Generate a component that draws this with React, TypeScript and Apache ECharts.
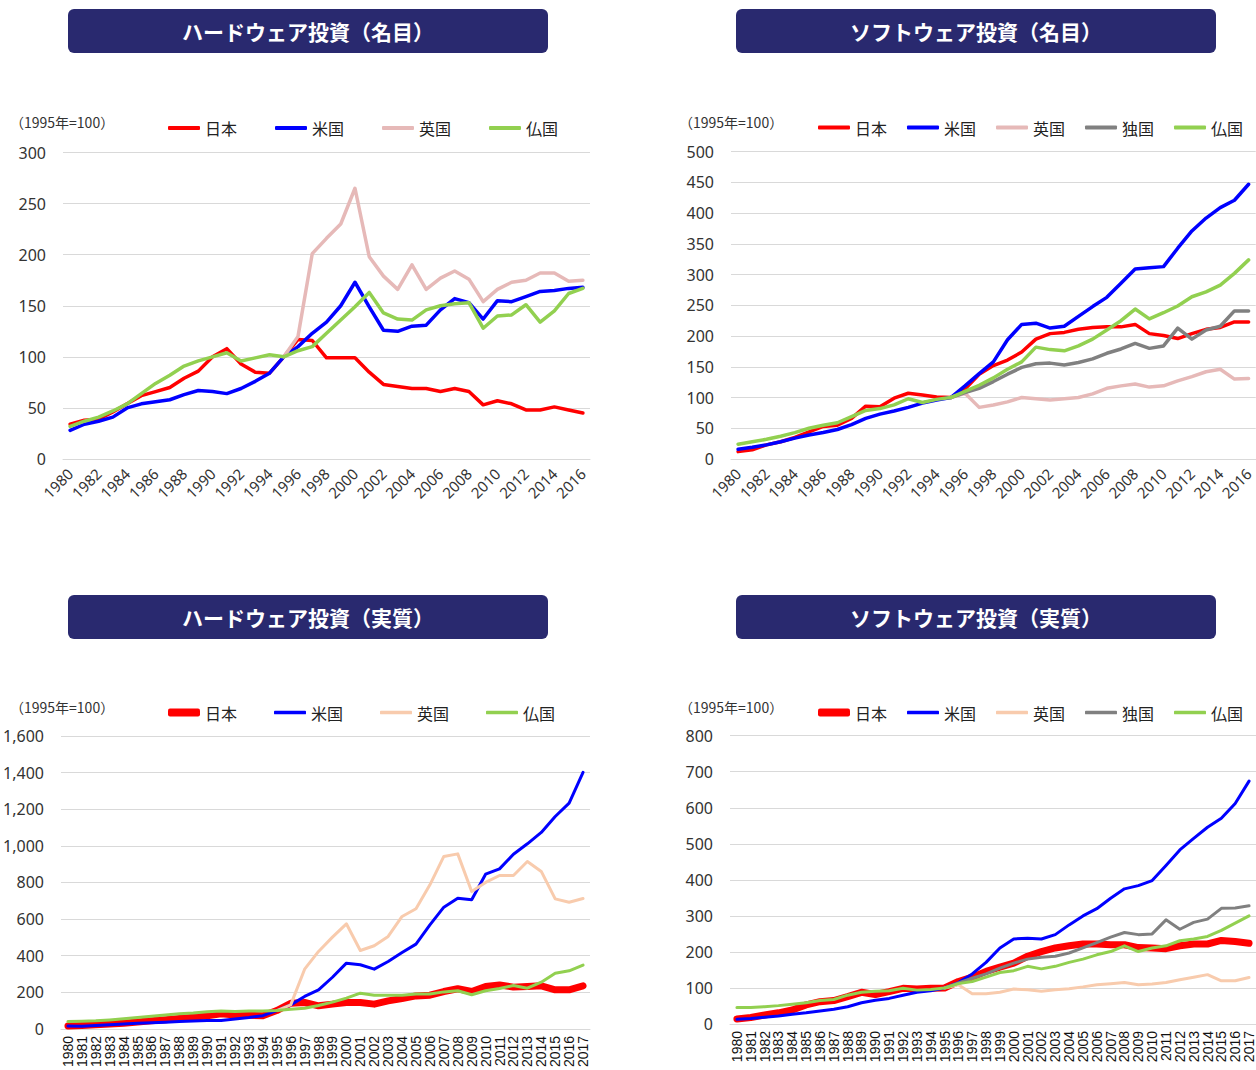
import React, { useEffect, useRef } from "react";
import * as echarts from "echarts";

// ---------- categories ----------
const yearsTo2016 = ["1980","1981","1982","1983","1984","1985","1986","1987","1988","1989","1990","1991","1992","1993","1994","1995","1996","1997","1998","1999","2000","2001","2002","2003","2004","2005","2006","2007","2008","2009","2010","2011","2012","2013","2014","2015","2016"];
const yearsTo2017 = ["1980","1981","1982","1983","1984","1985","1986","1987","1988","1989","1990","1991","1992","1993","1994","1995","1996","1997","1998","1999","2000","2001","2002","2003","2004","2005","2006","2007","2008","2009","2010","2011","2012","2013","2014","2015","2016","2017"];

const N = null;

// ---------- ハードウェア投資（名目） ----------
const hwNomJapan = [34,38,39,46,54,62,66,70,79,86,100,108,93,85,84,100,117,116,99,99,99,85,73,71,69,69,66,69,66,53,57,54,48,48,51,48,45];
const hwNomUS = [28,34,37,41,50,54,56,58,63,67,66,64,69,76,84,100,110,123,134,150,173,149,126,125,130,131,146,157,153,137,155,154,159,164,165,167,168];
const hwNomUK = [N,N,N,N,N,N,N,N,N,N,N,N,N,N,N,100,120,201,216,230,265,198,179,166,190,166,177,184,176,154,166,173,175,182,182,174,175];
const hwNomFR = [32,37,41,47,54,64,74,82,91,96,100,104,96,99,102,100,106,110,123,136,149,163,143,137,136,146,150,152,153,128,140,141,151,134,145,162,167];

// ---------- ソフトウェア投資（名目） ----------
const swNomJapan = [12,15,23,28,35,44,53,55,66,86,85,99,107,104,101,100,114,138,152,161,174,195,204,206,211,214,215,215,219,204,201,196,204,211,214,223,223];
const swNomUS = [16,19,23,28,34,39,43,48,56,66,73,78,84,91,96,100,119,139,158,194,219,221,213,216,232,248,263,286,309,311,313,343,371,392,409,421,447];
const swNomUK = [N,N,N,N,N,N,N,N,N,N,N,N,N,N,N,100,107,84,88,93,100,98,96,98,100,106,115,119,122,117,119,127,134,142,146,130,131];
const swNomDE = [N,N,N,N,N,N,N,N,N,N,N,N,N,N,N,100,108,115,126,138,149,155,156,153,157,163,172,179,188,180,184,213,195,210,216,241,241];
const swNomFR = [24,28,32,37,43,50,55,59,69,79,82,88,98,92,97,100,110,120,132,146,158,182,178,176,184,195,210,225,244,228,238,249,264,272,283,302,324];

// ---------- ハードウェア投資（実質） ----------
const hwRealJapan = [16,19,22,26,31,37,44,50,56,63,72,82,76,74,72,100,140,144,126,135,144,144,135,153,166,180,184,204,219,204,231,240,228,231,235,213,213,235];
const hwRealUS = [15,14,18,22,27,30,33,36,40,43,45,46,54,62,72,100,131,177,213,282,359,350,326,368,417,463,568,665,714,705,845,874,954,1011,1073,1160,1233,1401];
const hwRealUK = [N,N,N,N,N,N,N,N,N,N,N,N,N,N,N,100,131,326,423,501,574,428,454,505,614,656,787,942,956,750,800,838,838,914,860,710,692,712];
const hwRealFR = [40,42,44,49,55,62,69,76,82,86,93,98,95,97,98,100,107,113,128,146,168,195,184,184,184,191,191,202,208,186,208,220,237,222,255,304,317,348];

// ---------- ソフトウェア投資（実質） ----------
const swRealJapan = [14,18,25,31,39,53,62,65,76,88,82,90,99,97,99,100,118,130,146,158,169,188,201,211,217,222,222,220,220,212,211,209,217,222,222,232,229,224];
const swRealUS = [13,15,19,22,27,31,36,41,48,59,66,71,80,88,92,100,115,139,171,211,236,238,236,248,275,300,320,349,375,384,398,440,483,515,546,571,612,674];
const swRealUK = [N,N,N,N,N,N,N,N,N,N,N,N,N,N,N,100,109,84,84,88,97,95,91,95,98,103,109,112,115,109,111,115,123,130,137,120,120,129];
const swRealDE = [N,N,N,N,N,N,N,N,N,N,N,N,N,N,N,100,114,127,139,155,169,180,185,188,197,211,226,241,254,248,250,289,263,282,291,321,322,328];
const swRealFR = [46,46,48,51,55,59,65,68,80,88,91,92,99,94,96,100,112,118,130,143,148,160,153,160,171,180,192,201,217,201,211,217,231,236,243,260,280,300];

const titles = ["ハードウェア投資（名目）", "ソフトウェア投資（名目）", "ハードウェア投資（実質）", "ソフトウェア投資（実質）"];
const unitLabel = "（1995年=100）";

const RED = "#FF0000";
const BLUE = "#0000FF";
const PINK = "#E6B9B8";
const PEACH = "#F8CBAD";
const GRAY = "#808080";
const GREEN = "#92D050";

const NUM_FONT = "'Noto Sans', 'Noto Sans CJK JP', sans-serif";
const CJK_FONT = "'Noto Sans CJK JP', sans-serif";

type S = { name: string; data: (number | null)[]; color: string; width: number };

type Panel = {
  grid: { left: number; top: number; width: number; height: number };
  years: string[];
  max: number;
  interval: number;
  rotate: number;
  labelInterval: number;
  xFont: string;
  xSize: number;
  comma: boolean;
  series: S[];
  legendLeft: number;
  legendGap: number;
  legendTop: number;
  thickJapan: boolean;
  titleBox: { x: number; y: number };
  unit: { x: number; y: number };
};

const panels: Panel[] = [
  {
    grid: { left: 63, top: 152.5, width: 527, height: 306.5 },
    years: yearsTo2016, max: 300, interval: 50, rotate: 45, labelInterval: 1,
    xFont: NUM_FONT, xSize: 15, comma: false,
    series: [
      { name: "日本", data: hwNomJapan, color: RED, width: 3.5 },
      { name: "米国", data: hwNomUS, color: BLUE, width: 3.5 },
      { name: "英国", data: hwNomUK, color: PINK, width: 3.5 },
      { name: "仏国", data: hwNomFR, color: GREEN, width: 3.5 },
    ],
    legendLeft: 168, legendGap: 38, legendTop: 120, thickJapan: false,
    titleBox: { x: 68, y: 9 }, unit: { x: 10, y: 122 },
  },
  {
    grid: { left: 731, top: 151.7, width: 528, height: 307.3 },
    years: yearsTo2016, max: 500, interval: 50, rotate: 45, labelInterval: 1,
    xFont: NUM_FONT, xSize: 15, comma: false,
    series: [
      { name: "日本", data: swNomJapan, color: RED, width: 3.5 },
      { name: "米国", data: swNomUS, color: BLUE, width: 3.5 },
      { name: "英国", data: swNomUK, color: PINK, width: 3.5 },
      { name: "独国", data: swNomDE, color: GRAY, width: 3.5 },
      { name: "仏国", data: swNomFR, color: GREEN, width: 3.5 },
    ],
    legendLeft: 818, legendGap: 20, legendTop: 119.5, thickJapan: false,
    titleBox: { x: 736, y: 9 }, unit: { x: 679, y: 122 },
  },
  {
    grid: { left: 61, top: 736, width: 529, height: 293 },
    years: yearsTo2017, max: 1600, interval: 200, rotate: 90, labelInterval: 0,
    xFont: "'Liberation Sans', Arial, sans-serif", xSize: 14, comma: true,
    series: [
      { name: "日本", data: hwRealJapan, color: RED, width: 7 },
      { name: "米国", data: hwRealUS, color: BLUE, width: 3 },
      { name: "英国", data: hwRealUK, color: PEACH, width: 3 },
      { name: "仏国", data: hwRealFR, color: GREEN, width: 3 },
    ],
    legendLeft: 168, legendGap: 37, legendTop: 704.5, thickJapan: true,
    titleBox: { x: 68, y: 595 }, unit: { x: 10, y: 707 },
  },
  {
    grid: { left: 730, top: 735.7, width: 529, height: 288.3 },
    years: yearsTo2017, max: 800, interval: 100, rotate: 90, labelInterval: 0,
    xFont: "'Liberation Sans', Arial, sans-serif", xSize: 14, comma: false,
    series: [
      { name: "日本", data: swRealJapan, color: RED, width: 7 },
      { name: "米国", data: swRealUS, color: BLUE, width: 3 },
      { name: "英国", data: swRealUK, color: PEACH, width: 3 },
      { name: "独国", data: swRealDE, color: GRAY, width: 3 },
      { name: "仏国", data: swRealFR, color: GREEN, width: 3 },
    ],
    legendLeft: 818, legendGap: 20, legendTop: 704.5, thickJapan: true,
    titleBox: { x: 736, y: 595 }, unit: { x: 679, y: 707 },
  },
];

function buildOption() {
  const grid: any[] = [];
  const xAxis: any[] = [];
  const yAxis: any[] = [];
  const series: any[] = [];
  const legend: any[] = [];
  const graphic: any[] = [];

  panels.forEach((p, i) => {
    grid.push({ ...p.grid, containLabel: false });
    xAxis.push({
      type: "category",
      gridIndex: i,
      data: p.years,
      boundaryGap: true,
      axisLine: { show: true, lineStyle: { color: "#D9D9D9", width: 1 } },
      axisTick: { show: false },
      axisLabel: {
        rotate: p.rotate,
        interval: p.labelInterval,
        fontFamily: p.xFont,
        fontSize: p.xSize,
        color: p.rotate === 90 ? "#111" : "#333",
        margin: p.rotate === 90 ? 7 : 12,
      },
      splitLine: { show: false },
    });
    yAxis.push({
      type: "value",
      gridIndex: i,
      min: 0,
      max: p.max,
      interval: p.interval,
      axisLine: { show: false },
      axisTick: { show: false },
      splitLine: { show: true, lineStyle: { color: "#D9D9D9", width: 1 } },
      axisLabel: {
        fontFamily: NUM_FONT,
        fontSize: 16,
        color: "#333",
        margin: 17,
        formatter: p.comma ? (v: number) => v.toLocaleString("en-US") : (v: number) => String(v),
      },
    });
    p.series.forEach((s) => {
      series.push({
        type: "line",
        name: s.name,
        xAxisIndex: i,
        yAxisIndex: i,
        data: s.data,
        symbol: "none",
        showSymbol: false,
        connectNulls: false,
        lineStyle: { color: s.color, width: s.width, cap: "round", join: "round" },
        itemStyle: { color: s.color },
      });
    });

    const legendBase = {
      orient: "horizontal",
      top: p.legendTop,
      padding: 0,
      itemWidth: 32,
      icon: "roundRect",
      selectedMode: false,
      textStyle: { fontFamily: CJK_FONT, fontSize: 16, color: "#222" },
    };
    if (p.thickJapan) {
      const jp = p.series[0];
      legend.push({
        ...legendBase,
        left: p.legendLeft,
        itemHeight: 8,
        data: [{ name: jp.name, itemStyle: { color: jp.color } }],
      });
      legend.push({
        ...legendBase,
        left: p.legendLeft + 32 + 5 + 32 + p.legendGap,
        itemGap: p.legendGap,
        itemHeight: 3.5,
        data: p.series.slice(1).map((s) => ({ name: s.name, itemStyle: { color: s.color } })),
      });
    } else {
      legend.push({
        ...legendBase,
        left: p.legendLeft,
        itemGap: p.legendGap,
        itemHeight: 4,
        data: p.series.map((s) => ({ name: s.name, itemStyle: { color: s.color } })),
      });
    }

    graphic.push({
      type: "rect",
      shape: { x: p.titleBox.x, y: p.titleBox.y, width: 480, height: 44, r: 6 },
      style: { fill: "#29296F" },
      silent: true,
    });
    graphic.push({
      type: "text",
      x: p.titleBox.x + 240,
      y: p.titleBox.y + 22,
      style: {
        text: titles[i],
        fill: "#FFFFFF",
        font: `bold 21px ${CJK_FONT}`,
        textAlign: "center",
        textVerticalAlign: "middle",
      },
      silent: true,
    });
    graphic.push({
      type: "text",
      x: p.unit.x,
      y: p.unit.y,
      style: {
        text: unitLabel,
        fill: "#333",
        font: `14px ${CJK_FONT}`,
        textAlign: "left",
        textVerticalAlign: "middle",
      },
      silent: true,
    });
  });

  return {
    animation: false,
    backgroundColor: "#FFFFFF",
    grid,
    xAxis,
    yAxis,
    series,
    legend,
    graphic,
  };
}

export default function App() {
  const ref = useRef<HTMLDivElement | null>(null);
  useEffect(() => {
    if (!ref.current) return;
    const chart = echarts.init(ref.current, undefined, { renderer: "svg" });
    chart.setOption(buildOption() as any);
    return () => {
      chart.dispose();
    };
  }, []);
  return (
    <div
      ref={ref}
      style={{ position: "absolute", left: 0, top: 0, width: 1256, height: 1070, background: "#fff" }}
    />
  );
}
